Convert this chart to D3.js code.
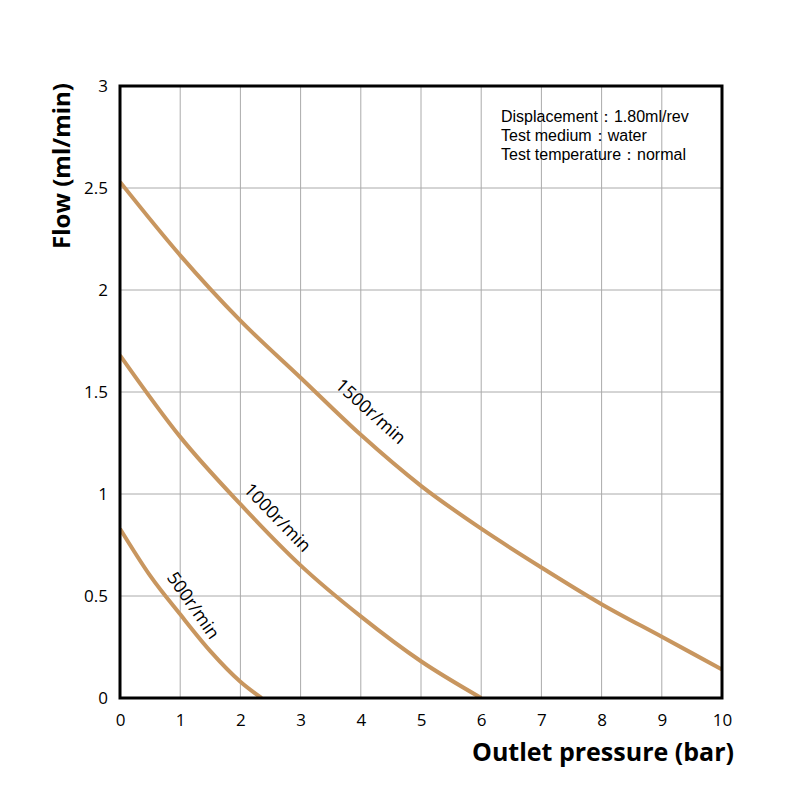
<!DOCTYPE html>
<html><head><meta charset="utf-8">
<script src="https://cdn.jsdelivr.net/npm/d3@7"></script>
<style>body{margin:0;background:#fff;} text{font-family:"Open Sans","Noto Sans",sans-serif;}</style>
</head><body>
<svg id="c" width="800" height="800"></svg>
<script>
const xTicks = [0,1,2,3,4,5,6,7,8,9,10];
const yTicks = [0,0.5,1,1.5,2,2.5,3];
const yTickLabels = ["0","0.5","1","1.5","2","2.5","3"];
const pressure1500 = [0,1,2,3,4,5,6,7,8,9,10];
const flow1500 = [2.53,2.17,1.85,1.57,1.29,1.04,0.83,0.64,0.46,0.30,0.14];
const pressure1000 = [0,1,2,3,4,5,6];
const flow1000 = [1.68,1.28,0.95,0.65,0.40,0.18,0];
const pressure500 = [0,0.5,1,1.5,2,2.35];
const flow500 = [0.83,0.60,0.41,0.23,0.08,0];
const seriesLabels = ["1500r/min","1000r/min","500r/min"];
const notes = ["Displacement：1.80ml/rev","Test medium：water","Test temperature：normal"];

const svg = d3.select("#c");
const L=120,R=722,T=86,B=698;
const x = d3.scaleLinear().domain([0,10]).range([L,R]);
const y = d3.scaleLinear().domain([0,3]).range([B,T]);

// grid
svg.append("g").selectAll("line").data(xTicks.slice(1,-1)).join("line")
 .attr("x1",d=>x(d)).attr("x2",d=>x(d)).attr("y1",T).attr("y2",B)
 .attr("stroke","#aaa").attr("stroke-width",1);
svg.append("g").selectAll("line").data(yTicks.slice(1,-1)).join("line")
 .attr("y1",d=>y(d)).attr("y2",d=>y(d)).attr("x1",L).attr("x2",R)
 .attr("stroke","#aaa").attr("stroke-width",1);

// axes tick labels
const xa = svg.append("g").attr("transform",`translate(0,${B})`)
 .call(d3.axisBottom(x).tickValues(xTicks).tickSize(0).tickPadding(16).tickFormat(d3.format("d")));
xa.select(".domain").remove();
xa.selectAll("text").attr("font-size",17).attr("fill","#000").style("font-family","'Open Sans',sans-serif");
const ya = svg.append("g").attr("transform",`translate(${L},0)`)
 .call(d3.axisLeft(y).tickValues(yTicks).tickSize(0).tickPadding(12).tickFormat((d,i)=>yTickLabels[i]));
ya.select(".domain").remove();
ya.selectAll("text").attr("font-size",17).attr("fill","#000").style("font-family","'Open Sans',sans-serif");

// curves
const line = d3.line().x(d=>x(d[0])).y(d=>y(d[1])).curve(d3.curveMonotoneX);
const series = [[pressure1500,flow1500],[pressure1000,flow1000],[pressure500,flow500]];
svg.append("clipPath").attr("id","pc").append("rect").attr("x",L).attr("y",T).attr("width",R-L).attr("height",B-T);
svg.append("g").attr("clip-path","url(#pc)").selectAll("path").data(series).join("path")
 .attr("d",s=>line(s[0].map((p,i)=>[p,s[1][i]])))
 .attr("fill","none").attr("stroke","#C8965F").attr("stroke-width",4);

// border
svg.append("rect").attr("x",L).attr("y",T).attr("width",R-L).attr("height",B-T)
 .attr("fill","none").attr("stroke","#000").attr("stroke-width",3);

// series labels
const labelPos = [[4.15,1.40,42],[2.6,0.88,46],[1.2,0.45,55]];
svg.append("g").selectAll("text").data(seriesLabels).join("text")
 .attr("transform",(d,i)=>`translate(${x(labelPos[i][0])},${y(labelPos[i][1])}) rotate(${labelPos[i][2]})`)
 .attr("text-anchor","middle").attr("dominant-baseline","middle")
 .attr("font-size",18).text(d=>d);

// notes
svg.append("g").selectAll("text").data(notes).join("text")
 .attr("x",501).attr("y",(d,i)=>122+i*19).attr("font-size",16)
 .style("font-family","'Liberation Sans',Arial,sans-serif").text(d=>d);

// axis titles
svg.append("text").attr("transform","translate(70,166) rotate(-90)").attr("text-anchor","middle")
 .attr("font-size",24).attr("font-weight","bold").text("Flow (ml/min)");
svg.append("text").attr("x",603).attr("y",761).attr("text-anchor","middle")
 .attr("font-size",25).attr("font-weight","bold").text("Outlet pressure (bar)");
</script>
</body></html>
